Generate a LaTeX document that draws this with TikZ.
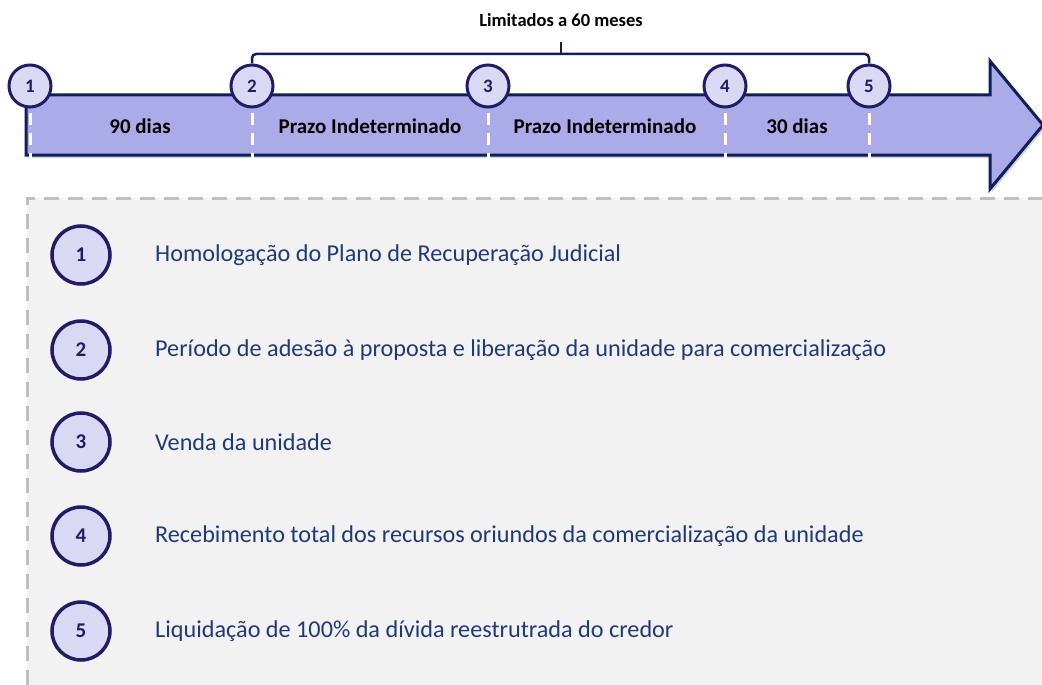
\documentclass[tikz,border=0pt]{standalone}
\usepackage{fontspec}
\setmainfont{Carlito}
\usetikzlibrary{shadows}
\definecolor{navy}{HTML}{0E1F5B}
\definecolor{ringblue}{HTML}{211C64}
\definecolor{arrowfill}{HTML}{ABABEA}
\definecolor{dotfill}{HTML}{D9D9F4}
\definecolor{textblue}{HTML}{203A78}
\definecolor{panelgray}{HTML}{F2F2F2}
\definecolor{dashgray}{HTML}{BFBFBF}
\tikzset{
  stepdot/.style={circle, draw=ringblue, fill=dotfill, line width=3pt, minimum size=42pt, inner sep=0pt, font=\fontsize{19}{19}\selectfont\bfseries, text=ringblue},
  legenddot/.style={circle, draw=ringblue, fill=dotfill, line width=3.5pt, minimum size=58pt, inner sep=0pt, font=\fontsize{21}{21}\selectfont\bfseries, text=ringblue},
  legendtext/.style={anchor=west, text=textblue, font=\fontsize{24.2}{24.2}\selectfont, inner sep=0pt},
  spanlabel/.style={font=\fontsize{21}{21}\selectfont\bfseries, text=black},
  tickline/.style={draw=white, line width=3pt, dash pattern=on 12pt off 8pt}
}
\begin{document}
\begin{tikzpicture}[x=1pt, y=-1pt]
		%%%%% START %%%%%
		\useasboundingbox (0,0) rectangle (1042,685);
		
		% panel
		\fill[panelgray] (27,198) rectangle (1042,685);
		\draw[dashgray, line width=3pt, dash pattern=on 15pt off 9pt] (27,685) -- (27,198) -- (1042,198);
		
		% arrow
		\draw[navy, fill=arrowfill, line width=3pt, line join=miter, drop shadow={opacity=0.35, shadow xshift=2pt, shadow yshift=-3pt}] (26,95) -- (990,95) -- (990,61) -- (1043,125) -- (990,189) -- (990,155) -- (26,155) -- cycle;
		
		% markers on the arrow
		\node[stepdot] (m1) at (30,86) {1};
		\node[stepdot] (m2) at (252,86) {2};
		\node[stepdot] (m3) at (488,86) {3};
		\node[stepdot] (m4) at (725,86) {4};
		\node[stepdot] (m5) at (869,86) {5};
		
		\foreach \m in {1,...,5}
			\draw[tickline] (m\m.south) ++(0,4) -- ++(0,46);
		
		\node[spanlabel] (s1) at (140,126) {90 dias};
		\node[spanlabel] (s2) at (370,126) {Prazo Indeterminado};
		\node[spanlabel] (s3) at (605,126) {Prazo Indeterminado};
		\node[spanlabel] (s4) at (797,126) {30 dias};
		
		% bracket
		\coordinate (brace) at (561,54);
		\draw[navy, line width=2.5pt, rounded corners=4pt] (m2.north) |- (brace) -| (m5.north);
		\draw[navy, line width=2.5pt] (brace) -- ++(0,-12);
		\node[font=\fontsize{18.5}{18.5}\selectfont\bfseries] (lim) at (561,20) {Limitados a 60 meses};
		
		% legend
		\foreach \n/\y/\txt in {1/255/Homologação do Plano de Recuperação Judicial,
			2/350/Período de adesão à proposta e liberação da unidade para comercialização,
			3/442/Venda da unidade,
			4/536/Recebimento total dos recursos oriundos da comercialização da unidade,
			5/631/Liquidação de 100\% da dívida reestrutrada do credor}{
			\node[legenddot] (l\n) at (81,\y) {\n};
			\node[legendtext] (t\n) at (155,\y) {\txt};
		}
		%%%%% END %%%%%
\end{tikzpicture}
\end{document}
